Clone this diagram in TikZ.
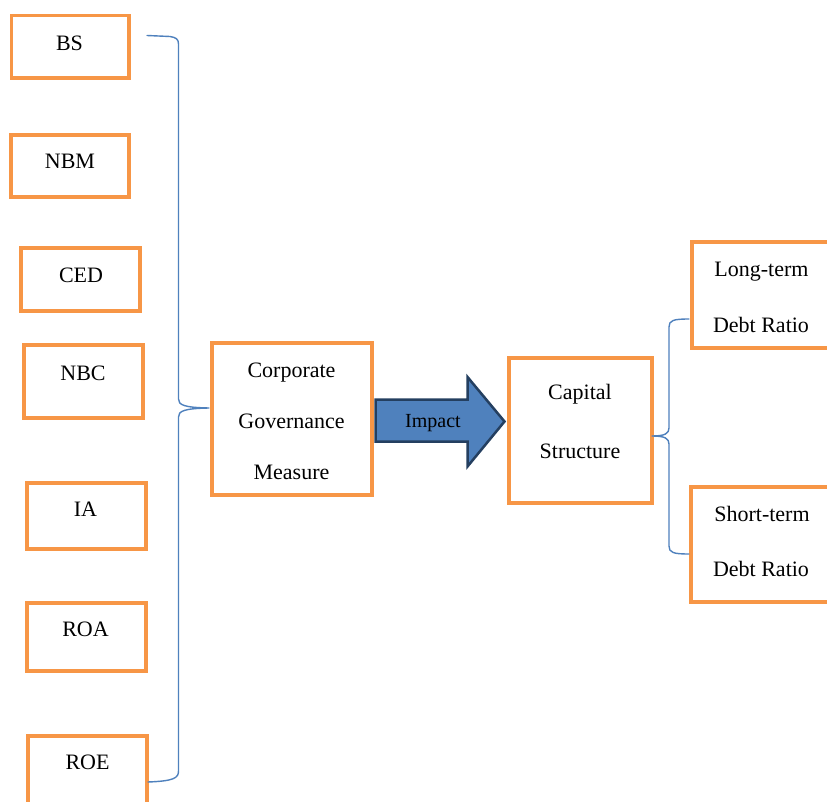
\documentclass[tikz,border=0pt]{standalone}
\usepackage{fontspec}
\newfontfamily\tnrfont{LiberationSerif}[Extension=.ttf, UprightFont=*-Regular]
\usetikzlibrary{fit,calc}
\definecolor{boxorange}{HTML}{F79646}
\definecolor{braceblue}{HTML}{4F81BD}
\definecolor{arrowfill}{HTML}{4F81BD}
\definecolor{arrowedge}{HTML}{243F60}
\begin{document}
\begin{tikzpicture}[x=1pt,y=-1pt,
  box/.style={draw=boxorange, line width=3.8pt, rectangle, inner sep=0pt},
  lbl/.style={font=\tnrfont\fontsize{22}{22}\selectfont, inner sep=0pt, anchor=base, text=black},
  implbl/.style={font=\tnrfont\fontsize{20}{20}\selectfont, inner sep=0pt, anchor=base, text=black},
  bracestyle/.style={draw=braceblue, line width=1.4pt, line join=round, line cap=round},
  arrowstyle/.style={draw=arrowedge, fill=arrowfill, line width=2.5pt, line join=miter},
]
\useasboundingbox[fill=white] (0,0) rectangle (827,802);

% boxes
\node[box, fit={(11.5,15.5) (129,78)}] (bs) {};
\node[box, fit={(11,135) (129,197)}] (nbm) {};
\node[box, fit={(21,248) (140,311)}] (ced) {};
\node[box, fit={(24,345) (143,418)}] (nbc) {};
\node[box, fit={(27,483) (146,549)}] (ia) {};
\node[box, fit={(27,603) (146,671)}] (roa) {};
\node[box, fit={(28,736) (147,815)}] (roe) {};
\node[box, fit={(212,343) (372,495)}] (cgm) {};
\node[box, fit={(509,358) (652,503)}] (cap) {};
\node[box, fit={(692,242) (845,348)}] (ltd) {};
\node[box, fit={(691,487) (845,602)}] (std) {};

% labels
\node[lbl] (bst) at (69.5,51) {BS};
\node[lbl] (nbmt) at (70,168.3) {NBM};
\node[lbl] (cedt) at (81,282.3) {CED};
\node[lbl] (nbct) at (83,380) {NBC};
\node[lbl] (iat) at (85.5,516.7) {IA};
\node[lbl] (roat) at (85.5,636.7) {ROA};
\node[lbl] (roet) at (87.5,769) {ROE};
\node[lbl] (cgm1) at (291.5,377) {Corporate};
\node[lbl] (cgm2) at (291.5,428) {Governance};
\node[lbl] (cgm3) at (291.5,479) {Measure};
\node[lbl] (cap1) at (580,399.3) {Capital};
\node[lbl] (cap2) at (580,458.3) {Structure};
\node[lbl] (ltd1) at (761.5,276.7) {Long-term};
\node[lbl] (ltd2) at (761,332.7) {Debt Ratio};
\node[lbl] (std1) at (762,521.7) {Short-term};
\node[lbl] (std2) at (761,576.7) {Debt Ratio};

% left brace
\coordinate (lbtop) at (147,35.5);
\coordinate (lbtip) at (209,408);
\coordinate (lbbot) at (148,782);
\draw[bracestyle] (lbtop) -- (170,36.5) .. controls (176,37.5) and (178.5,39) .. (178.5,44)
  -- (178.5,399) .. controls (178.5,405) and (184,407.5) .. (lbtip)
  .. controls (184,408.5) and (178.5,411) .. (178.5,417)
  -- (178.5,771) .. controls (178.5,778) and (174,781) .. (lbbot);

% right brace
\coordinate (rbtop) at (689,319);
\coordinate (rbtip) at (652,436);
\coordinate (rbbot) at (689,554);
\draw[bracestyle] (rbtop) .. controls (673,319) and (669,320.5) .. (669,327)
  -- (669,428) .. controls (669,433.5) and (665,436) .. (rbtip)
  .. controls (665,436) and (669,438.5) .. (669,444)
  -- (669,546) .. controls (669,552.5) and (673,554) .. (rbbot);

% impact arrow
\draw[arrowstyle] (375.5,399.5) -- (467.5,399.5) -- (467.5,377) -- (504.5,421.5)
  -- (467.5,466.5) -- (467.5,441.5) -- (375.5,441.5) -- cycle;
\node[implbl] (impact) at (433,427) {Impact};
\end{tikzpicture}
\end{document}
